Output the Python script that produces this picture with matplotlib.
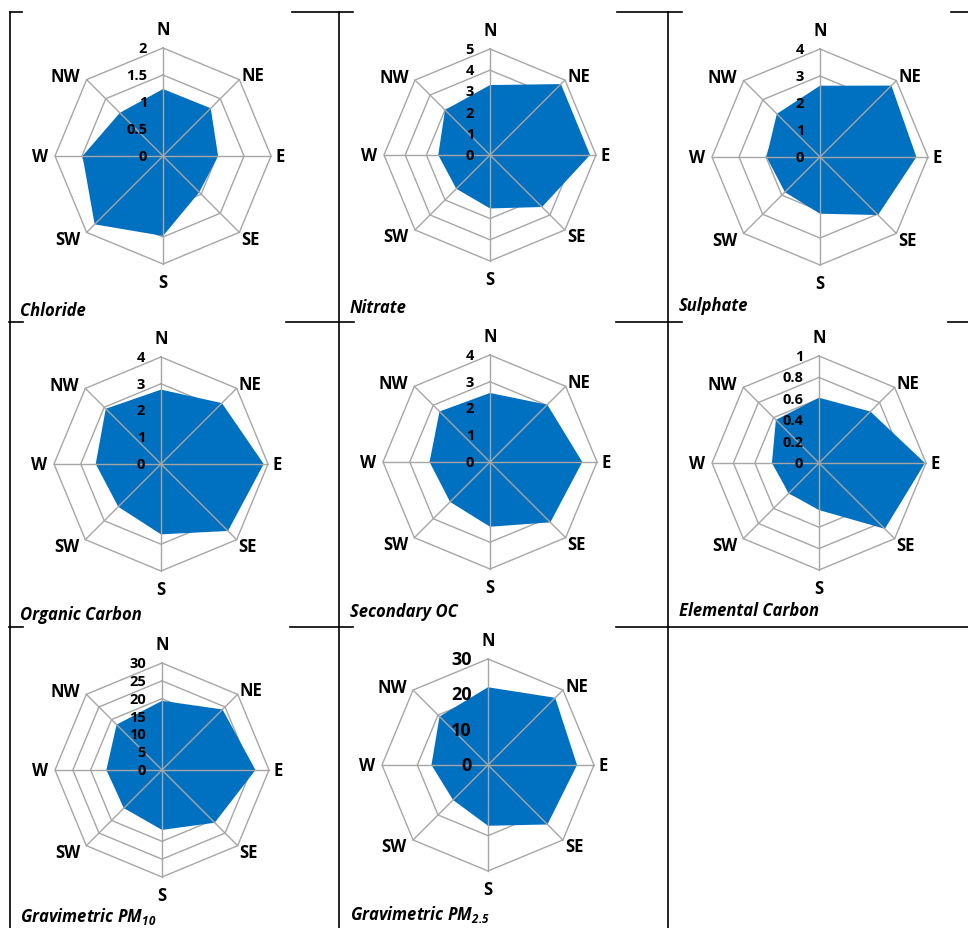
import numpy as np
import matplotlib
matplotlib.use('Agg')
import matplotlib.pyplot as plt

plt.rcParams['font.family'] = ['Open Sans', 'DejaVu Sans']
plt.rcParams['mathtext.fontset'] = 'custom'
plt.rcParams['mathtext.rm'] = 'Open Sans:italic:bold'
plt.rcParams['mathtext.it'] = 'Open Sans:italic:bold'

# Datos: concentraciones por sector de viento
directions = ['N', 'NE', 'E', 'SE', 'S', 'SW', 'W', 'NW']
chloride = [1.24, 1.25, 1.02, 0.95, 1.48, 1.79, 1.49, 1.13]
nitrate = [3.30, 4.73, 4.72, 3.47, 2.52, 2.25, 2.44, 3.00]
sulphate = [2.64, 3.74, 3.57, 3.04, 2.10, 1.84, 1.98, 2.26]
organic_c = [2.78, 3.22, 3.84, 3.54, 2.63, 2.26, 2.44, 2.92]
secondary_oc = [2.58, 3.03, 3.45, 3.19, 2.42, 2.11, 2.26, 2.67]
elemental_c = [0.61, 0.68, 0.99, 0.87, 0.44, 0.40, 0.44, 0.57]
pm10 = [19.4, 24.0, 26.2, 20.9, 16.8, 15.1, 15.6, 18.0]
pm25 = [22.0, 26.9, 25.2, 23.8, 17.2, 14.0, 16.0, 19.4]

ticks_chloride = [0, 0.5, 1, 1.5, 2]
ticks_nitrate = [0, 1, 2, 3, 4, 5]
ticks_sulphate = [0, 1, 2, 3, 4]
ticks_oc = [0, 1, 2, 3, 4]
ticks_soc = [0, 1, 2, 3, 4]
ticks_ec = [0, 0.2, 0.4, 0.6, 0.8, 1]
ticks_pm10 = [0, 5, 10, 15, 20, 25, 30]
ticks_pm25 = [0, 10, 20, 30]

titles = ['Chloride', 'Nitrate', 'Sulphate', 'Organic Carbon', 'Secondary OC',
          'Elemental Carbon', r'Gravimetric PM$_{10}$', r'Gravimetric PM$_{2.5}$']

W, H = 968, 929
fig = plt.figure(figsize=(W / 100, H / 100), dpi=100)

# (centro x, centro y, radio, titulo x, titulo y) en pixeles
panels = [
    (163, 157, 108, 20, 311, chloride, ticks_chloride, 10.5),
    (490, 156, 106, 350, 308, nitrate, ticks_nitrate, 10.5),
    (820, 158, 108, 679, 306, sulphate, ticks_sulphate, 10.5),
    (161, 465, 107, 20, 615, organic_c, ticks_oc, 10.5),
    (490, 463, 107, 350, 612, secondary_oc, ticks_soc, 10.5),
    (819, 464, 107, 679, 611, elemental_c, ticks_ec, 10.5),
    (162, 771, 107, 20, 917, pm10, ticks_pm10, 10.5),
    (488, 766, 106, 350, 915, pm25, ticks_pm25, 13),
]

# offsets (pt) y alineacion de las etiquetas de direccion
lab_pos = {
    'N': ((0, 13.5), 'center'), 'NE': ((1.5, 3), 'left'), 'E': ((3.5, 0), 'left'),
    'SE': ((1.5, -4.5), 'left'), 'S': ((0, -13), 'center'), 'SW': ((-4.5, -4.5), 'right'),
    'W': ((-5, 0), 'right'), 'NW': ((-4.5, 2.5), 'right'),
}

ang = np.deg2rad(np.arange(8) * 45)
closed = np.append(ang, ang[0])
grid_c = '#A6A6A6'

for (cx, cy, R, tx, ty, vals, ticks, tfs), title in zip(panels, titles):
    ax = fig.add_axes([(cx - R) / W, 1 - (cy + R) / H, 2 * R / W, 2 * R / H],
                      projection='polar')
    ax.set_theta_zero_location('N')
    ax.set_theta_direction(-1)
    rmax = ticks[-1]
    ax.set_ylim(0, rmax)
    ax.axis('off')

    for t in ticks[1:]:
        ax.plot(closed, [t] * 9, color=grid_c, lw=1, zorder=1, clip_on=False)
    ax.fill(closed, np.append(vals, vals[0]), color='#0070C0', lw=0, zorder=2)
    for a in ang:
        ax.plot([a, a], [0, rmax], color=grid_c, lw=1, zorder=3, clip_on=False)

    for t in ticks:
        ax.annotate(f'{t:g}', xy=(0, t), xytext=(-11.5, 0), textcoords='offset points',
                    ha='right', va='center', fontsize=tfs, fontweight='bold',
                    zorder=4, annotation_clip=False)

    for a, d in zip(ang, directions):
        off, ha = lab_pos[d]
        ax.annotate(d, xy=(a, rmax), xytext=off, textcoords='offset points',
                    ha=ha, va='center', fontsize=12, fontweight='bold',
                    annotation_clip=False)

    fig.text(tx / W, 1 - ty / H, title, ha='left', va='center', fontsize=12,
             fontweight='bold', fontstyle='italic')

# bordes de la tabla
lay = fig.add_axes([0, 0, 1, 1], zorder=-1)
lay.set_xlim(0, W)
lay.set_ylim(H, 0)
lay.axis('off')
hsegs = [(13, 10, 22), (13, 292, 353), (13, 617, 682), (13, 951, 968),
         (323, 9, 23), (323, 286, 354), (323, 616, 682), (323, 948, 968),
         (628, 9, 23), (628, 290, 353), (628, 616, 968)]
for y, x0, x1 in hsegs:
    lay.plot([x0, x1], [y, y], color='black', lw=1.2)
for x in [10, 339, 668]:
    lay.plot([x, x], [13, H], color='black', lw=1.2)

fig.savefig('out.png', dpi=100)
